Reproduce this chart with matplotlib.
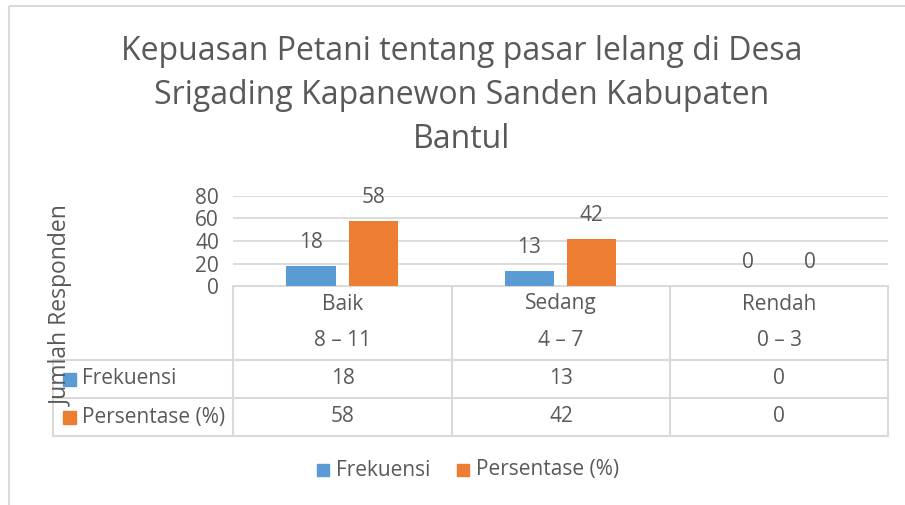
import matplotlib
matplotlib.use("Agg")
import matplotlib.pyplot as plt
import numpy as np
from matplotlib.patches import Rectangle

plt.rcParams["font.family"] = ["Open Sans", "DejaVu Sans"]

# data
categories = ["Baik", "Sedang", "Rendah"]
ranges = ["8 \u2013 11", "4 \u2013 7", "0 \u2013 3"]
frekuensi = [18, 13, 0]
persentase = [58, 42, 0]
series_names = ["Frekuensi", "Persentase (%)"]
colors = ["#5B9BD5", "#ED7D31"]
yticks = [0, 20, 40, 60, 80]

TXT = "#595959"
GRID = "#d9d9d9"
W, H = 905, 505
FS = 15
TFS = 23

fig = plt.figure(figsize=(W / 100, H / 100), dpi=100)

# overlay in pixel coords for frame/table
bg = fig.add_axes([0, 0, 1, 1])
bg.set_xlim(0, W)
bg.set_ylim(H, 0)
bg.axis("off")
bg.add_patch(Rectangle((9, 6), W, H, fill=False, ec=GRID, lw=1.5))

# bar axes (pixel box: x 233..888, y 196..286)
x0, x1, ytop, ybot = 233, 888, 196, 286
ax = fig.add_axes([x0 / W, 1 - ybot / H, (x1 - x0) / W, (ybot - ytop) / H])
x = np.arange(len(categories))
bw = 0.225
off = 0.1425
for vals, c, sgn in [(frekuensi, colors[0], -1), (persentase, colors[1], 1)]:
    ax.bar(x + sgn * off, vals, bw, color=c, zorder=3)
    for xi, v in zip(x, vals):
        ax.annotate(str(v), (xi + sgn * off, v), xytext=(0, 17), textcoords="offset points",
                    ha="center", va="center", fontsize=FS, color=TXT)
ax.set_xlim(-0.5, len(categories) - 0.5)
ax.set_ylim(0, 80)
ax.set_yticks(yticks)
ax.set_yticklabels([str(t) for t in yticks], fontsize=FS, color=TXT)
ax.tick_params(axis="y", length=0, pad=10)
ax.set_xticks([])
ax.grid(axis="y", color=GRID, lw=1.3, zorder=0)
for s in ax.spines.values():
    s.set_visible(False)

# y label
bg.text(62, 306, "Jumlah Responden", rotation=90, ha="center", va="center",
        fontsize=16.5, color=TXT)

# title
for i, line in enumerate(["Kepuasan Petani tentang pasar lelang di Desa",
                          "Srigading Kapanewon Sanden Kabupaten", "Bantul"]):
    bg.text(462, 52 + i * 44, line, ha="center", va="center", fontsize=TFS, color=TXT)

# data table
cols = [233, 452, 670, 888]
lw = 1.5
bg.plot([233, 888], [286, 286], color=GRID, lw=lw)
for yy in [360, 398, 436]:
    bg.plot([53, 888], [yy, yy], color=GRID, lw=lw)
for xx in cols:
    bg.plot([xx, xx], [286, 436], color=GRID, lw=lw)
bg.plot([53, 53], [360, 436], color=GRID, lw=lw)
for j in range(len(categories)):
    cx = (cols[j] + cols[j + 1]) / 2
    bg.text(cx, 304, categories[j], ha="center", va="center", fontsize=FS, color=TXT)
    bg.text(cx, 340, ranges[j], ha="center", va="center", fontsize=FS, color=TXT)
    bg.text(cx, 379, str(frekuensi[j]), ha="center", va="center", fontsize=FS, color=TXT)
    bg.text(cx, 417, str(persentase[j]), ha="center", va="center", fontsize=FS, color=TXT)
for k, (nm, c) in enumerate(zip(series_names, colors)):
    yy = 379 + k * 38
    bg.add_patch(Rectangle((63, yy - 6.5), 13, 13, color=c))
    bg.text(82, yy, nm, ha="left", va="center", fontsize=FS, color=TXT)

# legend
for (nm, c, lx) in zip(series_names, colors, [317, 457]):
    bg.add_patch(Rectangle((lx, 464), 12, 12, color=c))
    bg.text(lx + 19, 470, nm, ha="left", va="center", fontsize=FS, color=TXT)

fig.savefig("out.png", dpi=100)
